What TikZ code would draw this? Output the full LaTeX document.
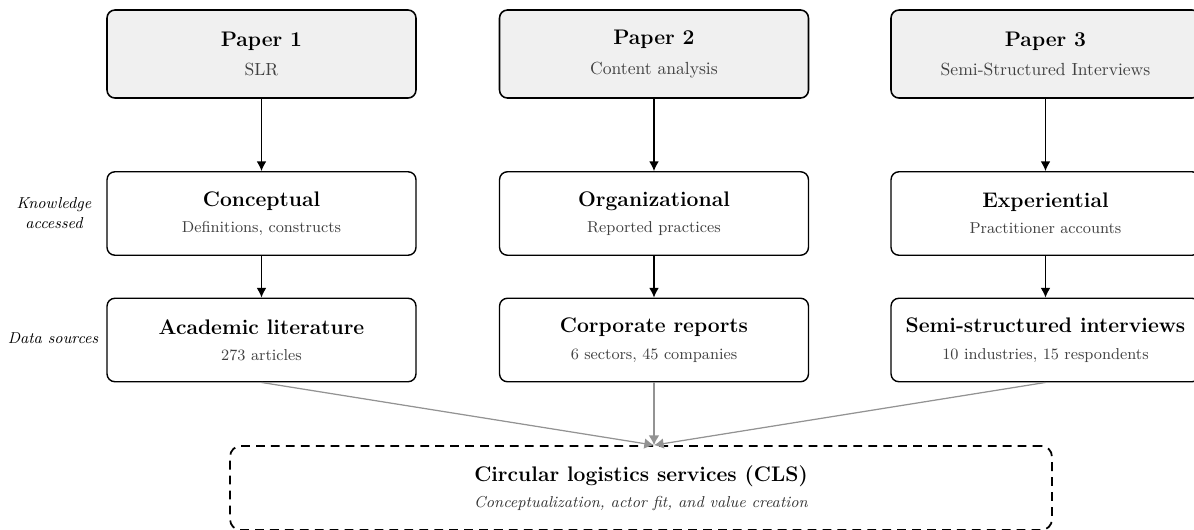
\documentclass[tikz,border=0pt]{standalone}
\usepackage{amsmath}
\usetikzlibrary{arrows.meta}

\begin{document}
\begin{tikzpicture}[
		x=0.02cm, y=-0.02cm,
		% Top row: one box per paper
		paperbox/.style={draw=black, fill=gray!12, rounded corners=4.5pt, line width=0.9pt,
			minimum width=6.18cm, minimum height=1.76cm, align=center},
		% Middle and lower rows
		levelbox/.style={draw=black, fill=white, rounded corners=4.5pt, line width=0.8pt,
			minimum width=6.18cm, minimum height=1.67cm, align=center},
		% Dashed synthesis box
		outcomebox/.style={draw=black, dashed, dash pattern=on 5pt off 3.5pt, rounded corners=6pt,
			line width=1pt, minimum width=16.44cm, minimum height=1.68cm, align=center},
		sidelabel/.style={align=center, font=\small\itshape},
		flow/.style={-{Latex[length=5.5pt,width=5.5pt]}, line width=0.7pt},
		merge/.style={-{Latex[length=5.5pt,width=6pt]}, line width=0.7pt, draw=gray!85, fill=gray!85}
		]
		\useasboundingbox (0,0) rectangle (1194,529);
		
		% =========================================================================
		% PAPERS
		% =========================================================================
		\node[paperbox] (p1) at (261.5,54) {{\large\bfseries Paper 1}\\[5pt]{\color{black!75}SLR}};
		\node[paperbox] (p2) at (654,54) {{\large\bfseries Paper 2}\\[5pt]{\color{black!75}Content analysis}};
		\node[paperbox] (p3) at (1045.5,54) {{\large\bfseries Paper 3}\\[5pt]{\color{black!75}Semi-Structured Interviews}};
		
		% =========================================================================
		% KNOWLEDGE ACCESSED
		% =========================================================================
		\node[levelbox] (k1) at (261.5,213.5) {{\large\bfseries Conceptual}\\[3pt]{\small\color{black!75}Definitions, constructs}};
		\node[levelbox] (k2) at (654,213.5) {{\large\bfseries Organizational}\\[3pt]{\small\color{black!75}Reported practices}};
		\node[levelbox] (k3) at (1045.5,213.5) {{\large\bfseries Experiential}\\[3pt]{\small\color{black!75}Practitioner accounts}};
		
		% =========================================================================
		% DATA SOURCES
		% =========================================================================
		\node[levelbox] (d1) at (261.5,340) {{\large\bfseries Academic literature}\\[3pt]{\small\color{black!75}273 articles}};
		\node[levelbox] (d2) at (654,340) {{\large\bfseries Corporate reports}\\[3pt]{\small\color{black!75}6 sectors, 45 companies}};
		\node[levelbox] (d3) at (1045.5,340) {{\large\bfseries Semi-structured interviews}\\[3pt]{\small\color{black!75}10 industries, 15 respondents}};
		
		% Row labels
		\node[sidelabel] (klabel) at (54,213) {Knowledge\\accessed};
		\node[sidelabel] (dlabel) at (53,338) {Data sources};
		
		% =========================================================================
		% OUTCOME
		% =========================================================================
		\node[outcomebox] (cls) at (641,488) {{\large\bfseries Circular logistics services (CLS)}\\[3pt]{\small\itshape\color{black!80}Conceptualization, actor fit, and value creation}};
		\coordinate (clsin) at (d2.south |- cls.north);
		
		% =========================================================================
		% CONNECTORS
		% =========================================================================
		\foreach \i in {1,2,3}{
			\draw[flow] (p\i) -- (k\i);
			\draw[flow] (k\i) -- (d\i);
			\draw[merge] (d\i.south) -- (clsin);
		}
		
	\end{tikzpicture}
\end{document}
